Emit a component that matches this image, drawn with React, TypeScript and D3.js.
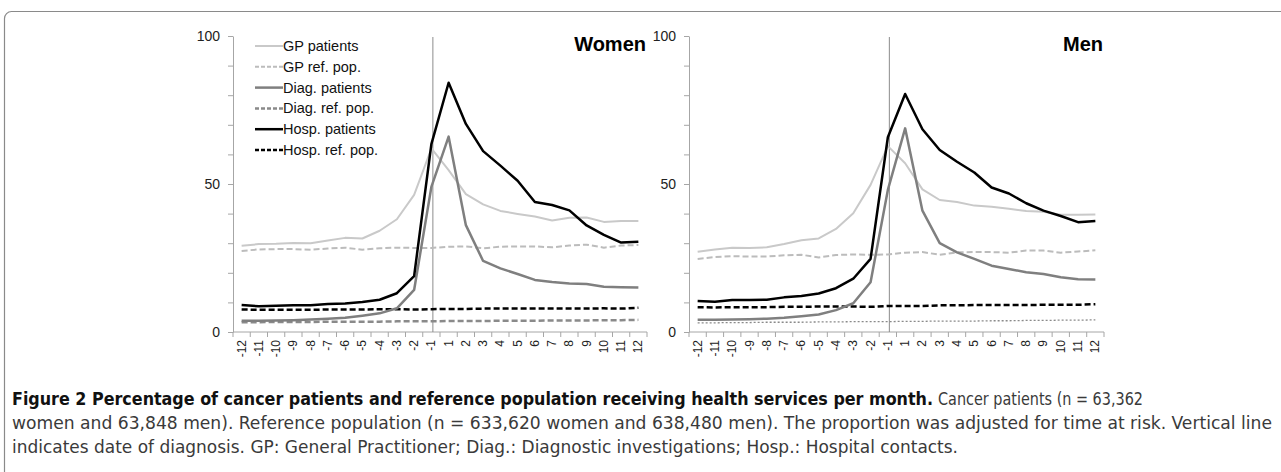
import React, { useEffect, useRef } from 'react';
import * as d3 from 'd3';

const months = ['-12', '-11', '-10', '-9', '-8', '-7', '-6', '-5', '-4', '-3', '-2', '-1',
  '1', '2', '3', '4', '5', '6', '7', '8', '9', '10', '11', '12'];

// Women
const womenGpPatients = [29.1, 29.7, 29.8, 30.1, 30.0, 30.9, 31.8, 31.6, 34.2, 38.1, 46.3, 62.0,
  54.7, 46.6, 43.1, 40.9, 39.9, 39.0, 37.7, 38.6, 38.7, 37.2, 37.5, 37.5];
const womenGpRef = [27.4, 27.9, 28.0, 28.0, 27.8, 28.2, 28.5, 27.8, 28.3, 28.5, 28.4, 28.4,
  28.8, 28.9, 28.3, 28.8, 28.9, 28.9, 28.6, 29.2, 29.5, 28.5, 29.2, 29.4];
const womenDiagPatients = [3.8, 3.8, 3.9, 4.0, 4.2, 4.5, 4.8, 5.5, 6.3, 8.0, 14.2, 49.0,
  66.0, 36.1, 24.0, 21.5, 19.6, 17.6, 16.9, 16.4, 16.2, 15.3, 15.1, 15.0];
const womenDiagRef = [3.3, 3.3, 3.4, 3.4, 3.4, 3.5, 3.5, 3.5, 3.5, 3.6, 3.6, 3.6,
  3.7, 3.7, 3.7, 3.8, 3.8, 3.8, 3.9, 3.9, 3.9, 4.0, 4.0, 4.1];
const womenHospPatients = [9.1, 8.7, 8.9, 9.0, 9.0, 9.5, 9.6, 10.1, 10.9, 13.1, 18.9, 63.5,
  84.2, 70.3, 61.1, 56.2, 51.1, 43.9, 42.9, 41.1, 36.0, 32.8, 30.2, 30.5];
const womenHospRef = [7.6, 7.5, 7.5, 7.5, 7.5, 7.6, 7.6, 7.6, 7.7, 7.7, 7.6, 7.7,
  7.8, 7.8, 7.9, 7.9, 7.9, 7.9, 7.9, 7.9, 7.9, 8.0, 7.9, 8.2];

// Men
const menGpPatients = [27.1, 27.9, 28.5, 28.4, 28.6, 29.7, 31.0, 31.6, 34.8, 40.1, 49.7, 62.8,
  57.0, 48.2, 44.6, 43.9, 42.7, 42.3, 41.6, 40.9, 40.6, 39.6, 39.6, 39.7];
const menGpRef = [24.7, 25.3, 25.6, 25.5, 25.5, 25.9, 26.1, 25.2, 26.0, 26.2, 26.1, 26.2,
  26.8, 27.0, 26.1, 26.9, 27.0, 27.0, 26.8, 27.5, 27.5, 26.8, 27.2, 27.6];
const menDiagPatients = [4.1, 4.1, 4.2, 4.3, 4.5, 4.8, 5.3, 5.9, 7.4, 9.7, 16.8, 48.0,
  68.8, 41.0, 30.0, 26.9, 24.7, 22.4, 21.3, 20.2, 19.6, 18.5, 17.8, 17.7];
const menDiagRef = [3.1, 3.1, 3.2, 3.2, 3.3, 3.3, 3.3, 3.4, 3.4, 3.5, 3.5, 3.5,
  3.6, 3.6, 3.7, 3.7, 3.7, 3.8, 3.8, 3.9, 3.9, 4.0, 4.0, 4.1];
const menHospPatients = [10.5, 10.2, 10.8, 10.8, 10.9, 11.7, 12.2, 13.0, 14.8, 18.0, 24.7, 65.8,
  80.4, 68.5, 61.5, 57.5, 53.9, 48.8, 46.8, 43.5, 41.0, 39.2, 37.1, 37.5];
const menHospRef = [8.4, 8.3, 8.4, 8.4, 8.4, 8.5, 8.5, 8.6, 8.6, 8.6, 8.5, 8.8,
  8.8, 8.8, 9.0, 9.0, 9.1, 9.1, 9.1, 9.1, 9.2, 9.2, 9.2, 9.4];

const seriesNames = ['GP patients', 'GP ref. pop.', 'Diag. patients', 'Diag. ref. pop.', 'Hosp. patients', 'Hosp. ref. pop.'];

const styles = [
  { color: '#c9c9c9', width: 2, dash: null },
  { color: '#bcbcbc', width: 2, dash: '6,3' },
  { color: '#7f7f7f', width: 2.5, dash: null },
  { color: '#8a8a8a', width: 2.5, dash: '6,3' },
  { color: '#000000', width: 2.5, dash: null },
  { color: '#000000', width: 2.5, dash: '6,3' },
];

const FONT = "'Liberation Sans', Arial, sans-serif";

interface PanelProps {
  title: string;
  series: number[][];
  x0: number;
  x1: number;
  legend?: boolean;
  fineDiagRef?: boolean;
}

const Panel: React.FC<PanelProps> = ({ title, series, x0, x1, legend, fineDiagRef }) => {
  const gRef = useRef<SVGGElement>(null);

  useEffect(() => {
    if (!gRef.current) return;
    const g = d3.select(gRef.current);
    g.selectAll('*').remove();

    const yTop = 36, yBot = 332;
    const x = d3.scaleBand().domain(months).range([x0, x1]).padding(0);
    const y = d3.scaleLinear().domain([0, 100]).range([yBot, yTop]);
    const cx = (m: string) => (x(m) || 0) + x.bandwidth() / 2;

    // y axis
    const yAxis = g.append('g')
      .attr('transform', `translate(${x0},0)`)
      .call(d3.axisLeft(y).tickValues(d3.range(0, 101, 10)).tickSize(5).tickSizeOuter(0)
        .tickFormat((d: any) => (d % 50 === 0 ? String(d) : '')));
    yAxis.select('.domain').attr('stroke', '#a6a6a6');
    yAxis.selectAll('.tick line').attr('stroke', '#a6a6a6');
    yAxis.selectAll('.tick text')
      .attr('x', -13)
      .attr('fill', '#222')
      .style('font-family', FONT)
      .style('font-size', '14px');

    // x axis
    const xg = g.append('g');
    xg.append('line')
      .attr('x1', x0).attr('x2', x1).attr('y1', yBot).attr('y2', yBot)
      .attr('stroke', '#a6a6a6');
    const bounds = months.map(m => x(m) || 0).concat([x1]);
    xg.selectAll('.xt').data(bounds).enter().append('line')
      .attr('x1', d => d).attr('x2', d => d)
      .attr('y1', yBot).attr('y2', yBot + 5)
      .attr('stroke', '#a6a6a6');
    xg.selectAll('.xl').data(months).enter().append('text')
      .attr('transform', d => `translate(${cx(d) + 4},${yBot + 8}) rotate(-90)`)
      .attr('text-anchor', 'end')
      .attr('fill', '#222')
      .style('font-family', FONT)
      .style('font-size', '12px')
      .text(d => d);

    // diagnosis line
    g.append('line')
      .attr('x1', cx('-1') + 1.5).attr('x2', cx('-1') + 1.5)
      .attr('y1', yTop + 1).attr('y2', yBot)
      .attr('stroke', '#8c8c8c').attr('stroke-width', 1);

    const line = d3.line<number>()
      .x((_, i) => cx(months[i]))
      .y(d => y(d));

    // draw order: ref pops first, then patients
    const order = [3, 1, 5, 0, 2, 4];
    order.forEach(i => {
      const s = styles[i];
      let dash = s.dash;
      let w = s.width;
      let color = s.color;
      if (fineDiagRef && i === 3) { dash = '2,2'; w = 1.3; color = '#8a8a8a'; }
      g.append('path')
        .datum(series[i])
        .attr('d', line)
        .attr('fill', 'none')
        .attr('stroke', color)
        .attr('stroke-width', w)
        .attr('stroke-dasharray', dash)
        .attr('stroke-linejoin', 'round');
    });

    // title
    g.append('text')
      .attr('x', x1 - 1).attr('y', 51)
      .attr('text-anchor', 'end')
      .style('font-family', FONT)
      .style('font-size', '20px')
      .style('font-weight', 'bold')
      .attr('fill', '#000')
      .text(title);

    if (legend) {
      const lg = g.append('g');
      seriesNames.forEach((name, i) => {
        const ly = 46 + i * 20.8;
        const s = styles[i];
        lg.append('line')
          .attr('x1', x0 + 22).attr('x2', x0 + 50)
          .attr('y1', ly).attr('y2', ly)
          .attr('stroke', s.color).attr('stroke-width', s.width)
          .attr('stroke-dasharray', s.dash ? '4,2' : null);
        lg.append('text')
          .attr('x', x0 + 50).attr('y', ly)
          .attr('dy', '0.35em')
          .attr('fill', '#111')
          .style('font-family', FONT)
          .style('font-size', '14.5px')
          .text(name);
      });
    }
  }, [title, series, x0, x1, legend, fineDiagRef]);

  return <g ref={gRef} />;
};

const App: React.FC = () => {
  const women = [womenGpPatients, womenGpRef, womenDiagPatients, womenDiagRef, womenHospPatients, womenHospRef];
  const men = [menGpPatients, menGpRef, menDiagPatients, menDiagRef, menHospPatients, menHospRef];
  const capFont = "'Liberation Sans Narrow', 'DejaVu Sans', sans-serif";
  return (
    <svg width={1281} height={472} style={{ position: 'absolute', left: 0, top: 0, background: '#fff' }}>
      <rect x={4.5} y={11.5} width={1300} height={500} rx={7} fill="none" stroke="#8a8a8a" strokeWidth={1.2} />
      <Panel title="Women" series={women} x0={233} x1={647} legend />
      <Panel title="Men" series={men} x0={689} x1={1104} fineDiagRef />
      <g style={{ fontFamily: capFont, fontSize: '17px', fontStretch: 'condensed' }} fill="#3a3a3a">
        <text x={12} y={405} textLength={921} lengthAdjust="spacingAndGlyphs" fontWeight="bold" fill="#111">
          Figure 2 Percentage of cancer patients and reference population receiving health services per month.
        </text>
        <text x={938} y={405} textLength={205} lengthAdjust="spacingAndGlyphs">
          Cancer patients (n = 63,362
        </text>
        <text x={12} y={429} textLength={1260} lengthAdjust="spacingAndGlyphs">
          women and 63,848 men). Reference population (n = 633,620 women and 638,480 men). The proportion was adjusted for time at risk. Vertical line
        </text>
        <text x={12} y={453} textLength={946} lengthAdjust="spacingAndGlyphs">
          indicates date of diagnosis. GP: General Practitioner; Diag.: Diagnostic investigations; Hosp.: Hospital contacts.
        </text>
      </g>
    </svg>
  );
};

export default App;
